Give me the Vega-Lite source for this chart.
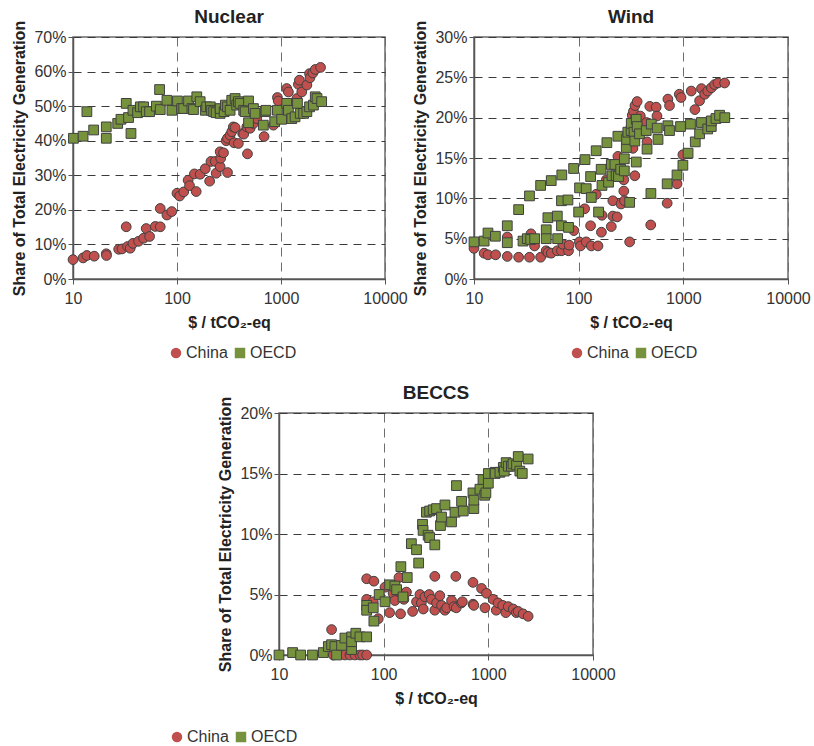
{
  "$schema": "https://vega.github.io/schema/vega-lite/v6.json",
  "background": "white",
  "padding": {"left": 11, "top": 7, "right": 0, "bottom": 0},
  "config": {
    "font": "Liberation Sans",
    "view": {"stroke": "#6b6b6b", "strokeWidth": 1.5},
    "axis": {
      "labelFont": "Liberation Sans", "labelFontSize": 16, "labelColor": "#333333",
      "titleFont": "Liberation Sans", "titleFontSize": 16, "titleFontWeight": "bold", "titleColor": "#222222",
      "domainColor": "#555555", "domainWidth": 1.5, "tickColor": "#555555", "tickSize": 5,
      "gridColor": "#3a3a3a", "gridDash": [8, 6], "gridWidth": 1, "gridOpacity": 1
    },
    "axisX": {"gridColor": "#6e6e6e", "gridDash": [9, 6]},
    "title": {"font": "Liberation Sans", "fontSize": 19, "fontWeight": "bold", "color": "#222222", "frame": "group", "offset": -7},
    "legend": {
      "orient": "none", "direction": "horizontal", "title": null, "legendX": 95, "legendY": 308,
      "labelFont": "Liberation Sans", "labelFontSize": 16, "labelColor": "#333333",
      "symbolSize": 110, "symbolStrokeColor": "#404040", "symbolStrokeWidth": 1, "symbolOpacity": 1,
      "columnPadding": 4, "labelOffset": 2
    }
  },
  "datasets": {
    "nuclear": [
      {"region": "China", "price": 10, "share": 5.6}, {"region": "China", "price": 12.5, "share": 6.1},
      {"region": "China", "price": 13.6, "share": 6.8}, {"region": "China", "price": 16, "share": 6.6},
      {"region": "China", "price": 20.9, "share": 7.3}, {"region": "China", "price": 21, "share": 6.8},
      {"region": "China", "price": 27.5, "share": 8.6}, {"region": "China", "price": 29.6, "share": 8.7},
      {"region": "China", "price": 32.5, "share": 15.1}, {"region": "China", "price": 33.5, "share": 9.4},
      {"region": "China", "price": 35.5, "share": 8.9}, {"region": "China", "price": 37.7, "share": 10.3},
      {"region": "China", "price": 42.7, "share": 10.9}, {"region": "China", "price": 47.7, "share": 11.8},
      {"region": "China", "price": 50.6, "share": 14.6}, {"region": "China", "price": 54.5, "share": 12.3},
      {"region": "China", "price": 61.9, "share": 15.2}, {"region": "China", "price": 69, "share": 15.1},
      {"region": "China", "price": 69, "share": 20.4}, {"region": "China", "price": 80, "share": 18.5},
      {"region": "China", "price": 89, "share": 19.5}, {"region": "China", "price": 100, "share": 24.8},
      {"region": "China", "price": 106, "share": 24}, {"region": "China", "price": 116, "share": 25.2},
      {"region": "China", "price": 128, "share": 28.6}, {"region": "China", "price": 132, "share": 27},
      {"region": "China", "price": 153, "share": 25.3}, {"region": "China", "price": 147, "share": 30.4},
      {"region": "China", "price": 167, "share": 30.3}, {"region": "China", "price": 187, "share": 31.9},
      {"region": "China", "price": 206, "share": 28.3}, {"region": "China", "price": 212, "share": 34},
      {"region": "China", "price": 233, "share": 34}, {"region": "China", "price": 238, "share": 30.6},
      {"region": "China", "price": 260, "share": 32.5}, {"region": "China", "price": 263, "share": 34.9},
      {"region": "China", "price": 306, "share": 30.8}, {"region": "China", "price": 260, "share": 36.8},
      {"region": "China", "price": 280, "share": 36.5}, {"region": "China", "price": 297, "share": 40},
      {"region": "China", "price": 306, "share": 40.7}, {"region": "China", "price": 324, "share": 41.6},
      {"region": "China", "price": 336, "share": 42.6}, {"region": "China", "price": 348, "share": 44},
      {"region": "China", "price": 362, "share": 43.8}, {"region": "China", "price": 354, "share": 39.4},
      {"region": "China", "price": 389, "share": 39.2}, {"region": "China", "price": 428, "share": 42.1},
      {"region": "China", "price": 438, "share": 41.9}, {"region": "China", "price": 469, "share": 44},
      {"region": "China", "price": 476, "share": 36.2}, {"region": "China", "price": 505, "share": 43.6},
      {"region": "China", "price": 543, "share": 45}, {"region": "China", "price": 565, "share": 47.4},
      {"region": "China", "price": 585, "share": 46.4}, {"region": "China", "price": 688, "share": 41.2},
      {"region": "China", "price": 845, "share": 44.5}, {"region": "China", "price": 924, "share": 52.5},
      {"region": "China", "price": 940, "share": 51.5}, {"region": "China", "price": 1135, "share": 55.1},
      {"region": "China", "price": 1178, "share": 54.1}, {"region": "China", "price": 1420, "share": 52.2},
      {"region": "China", "price": 1470, "share": 56.3}, {"region": "China", "price": 1503, "share": 57.5},
      {"region": "China", "price": 1584, "share": 54.1}, {"region": "China", "price": 1773, "share": 56.1},
      {"region": "China", "price": 1881, "share": 59.4}, {"region": "China", "price": 1900, "share": 58.2},
      {"region": "China", "price": 2025, "share": 59.6}, {"region": "China", "price": 2135, "share": 60.6},
      {"region": "China", "price": 2400, "share": 61.2},
      {"region": "OECD", "price": 10.1, "share": 40.7}, {"region": "OECD", "price": 12.5, "share": 41.3},
      {"region": "OECD", "price": 13.6, "share": 48.4}, {"region": "OECD", "price": 15.8, "share": 43.1},
      {"region": "OECD", "price": 20.9, "share": 44}, {"region": "OECD", "price": 20.9, "share": 40.7},
      {"region": "OECD", "price": 26.9, "share": 45}, {"region": "OECD", "price": 28.9, "share": 46.2},
      {"region": "OECD", "price": 32.5, "share": 50.8}, {"region": "OECD", "price": 34.2, "share": 46.7},
      {"region": "OECD", "price": 36.1, "share": 42.1}, {"region": "OECD", "price": 37.7, "share": 48.8},
      {"region": "OECD", "price": 41.8, "share": 48.1}, {"region": "OECD", "price": 44.4, "share": 49.8},
      {"region": "OECD", "price": 47.7, "share": 49.8}, {"region": "OECD", "price": 50.6, "share": 48.4},
      {"region": "OECD", "price": 54.5, "share": 48.4}, {"region": "OECD", "price": 63.3, "share": 50},
      {"region": "OECD", "price": 68, "share": 54.8}, {"region": "OECD", "price": 69, "share": 49},
      {"region": "OECD", "price": 80, "share": 51.7}, {"region": "OECD", "price": 89.3, "share": 48.8},
      {"region": "OECD", "price": 101, "share": 51.5}, {"region": "OECD", "price": 111, "share": 49.3},
      {"region": "OECD", "price": 116, "share": 49.3}, {"region": "OECD", "price": 129, "share": 51.5},
      {"region": "OECD", "price": 139, "share": 49.3}, {"region": "OECD", "price": 144, "share": 49},
      {"region": "OECD", "price": 155, "share": 52.7}, {"region": "OECD", "price": 167, "share": 51.3},
      {"region": "OECD", "price": 187, "share": 48.8}, {"region": "OECD", "price": 193, "share": 49.8},
      {"region": "OECD", "price": 209, "share": 49.8}, {"region": "OECD", "price": 215, "share": 48.8},
      {"region": "OECD", "price": 225, "share": 48.4}, {"region": "OECD", "price": 238, "share": 48.1},
      {"region": "OECD", "price": 260, "share": 47.9}, {"region": "OECD", "price": 260, "share": 49.3},
      {"region": "OECD", "price": 284, "share": 48.4}, {"region": "OECD", "price": 292, "share": 50.3},
      {"region": "OECD", "price": 306, "share": 49.8}, {"region": "OECD", "price": 324, "share": 48.8},
      {"region": "OECD", "price": 336, "share": 51.7}, {"region": "OECD", "price": 362, "share": 52.2},
      {"region": "OECD", "price": 375, "share": 50.3}, {"region": "OECD", "price": 389, "share": 51.3},
      {"region": "OECD", "price": 404, "share": 50.8}, {"region": "OECD", "price": 438, "share": 48.8},
      {"region": "OECD", "price": 452, "share": 48.4}, {"region": "OECD", "price": 487, "share": 51.5},
      {"region": "OECD", "price": 487, "share": 45.2}, {"region": "OECD", "price": 543, "share": 49.3},
      {"region": "OECD", "price": 564, "share": 47.9}, {"region": "OECD", "price": 676, "share": 44.5},
      {"region": "OECD", "price": 703, "share": 48.4}, {"region": "OECD", "price": 717, "share": 48.8},
      {"region": "OECD", "price": 870, "share": 45.5}, {"region": "OECD", "price": 924, "share": 48.8},
      {"region": "OECD", "price": 1015, "share": 46.2}, {"region": "OECD", "price": 1135, "share": 50.8},
      {"region": "OECD", "price": 1178, "share": 48.8}, {"region": "OECD", "price": 1270, "share": 46.4},
      {"region": "OECD", "price": 1365, "share": 46.9}, {"region": "OECD", "price": 1440, "share": 50.8},
      {"region": "OECD", "price": 1530, "share": 47.9}, {"region": "OECD", "price": 1650, "share": 47.9},
      {"region": "OECD", "price": 1773, "share": 48.4}, {"region": "OECD", "price": 1881, "share": 49.8},
      {"region": "OECD", "price": 2050, "share": 50.3}, {"region": "OECD", "price": 2135, "share": 52.7},
      {"region": "OECD", "price": 2220, "share": 52.2}, {"region": "OECD", "price": 2460, "share": 51.3}
    ],
    "wind": [
      {"region": "China", "price": 10, "share": 3.8}, {"region": "China", "price": 12.5, "share": 3.2},
      {"region": "China", "price": 13.6, "share": 3}, {"region": "China", "price": 16.1, "share": 3},
      {"region": "China", "price": 20.8, "share": 2.8}, {"region": "China", "price": 20.8, "share": 5.2},
      {"region": "China", "price": 26.7, "share": 2.7}, {"region": "China", "price": 33.9, "share": 2.7},
      {"region": "China", "price": 35, "share": 5.6}, {"region": "China", "price": 37.9, "share": 4.1},
      {"region": "China", "price": 43.3, "share": 2.7}, {"region": "China", "price": 48.9, "share": 3.5},
      {"region": "China", "price": 50.8, "share": 3.3}, {"region": "China", "price": 54.7, "share": 3.2},
      {"region": "China", "price": 62.5, "share": 3.5}, {"region": "China", "price": 68.5, "share": 3.5},
      {"region": "China", "price": 70.6, "share": 4.3}, {"region": "China", "price": 80, "share": 3.5},
      {"region": "China", "price": 81, "share": 4.2}, {"region": "China", "price": 90, "share": 6},
      {"region": "China", "price": 101.6, "share": 4.6}, {"region": "China", "price": 104, "share": 4.1},
      {"region": "China", "price": 114, "share": 8.7}, {"region": "China", "price": 118, "share": 4.6},
      {"region": "China", "price": 130, "share": 6.6}, {"region": "China", "price": 132, "share": 4.1},
      {"region": "China", "price": 147, "share": 10.5}, {"region": "China", "price": 153, "share": 4.1},
      {"region": "China", "price": 165, "share": 5.8}, {"region": "China", "price": 167, "share": 7.9},
      {"region": "China", "price": 184, "share": 12.3}, {"region": "China", "price": 205, "share": 6.5},
      {"region": "China", "price": 212, "share": 9.7}, {"region": "China", "price": 212, "share": 7.8},
      {"region": "China", "price": 233, "share": 7.7}, {"region": "China", "price": 237, "share": 15.2},
      {"region": "China", "price": 254, "share": 9.3}, {"region": "China", "price": 270, "share": 10.9},
      {"region": "China", "price": 274, "share": 9.7}, {"region": "China", "price": 270, "share": 12.3},
      {"region": "China", "price": 307, "share": 4.6}, {"region": "China", "price": 330, "share": 16.2},
      {"region": "China", "price": 340, "share": 17.4}, {"region": "China", "price": 340, "share": 19},
      {"region": "China", "price": 344, "share": 12.8}, {"region": "China", "price": 325, "share": 20.3},
      {"region": "China", "price": 334, "share": 20.8}, {"region": "China", "price": 345, "share": 21.5},
      {"region": "China", "price": 362, "share": 22}, {"region": "China", "price": 345, "share": 19.8},
      {"region": "China", "price": 388, "share": 20.2}, {"region": "China", "price": 444, "share": 19.4},
      {"region": "China", "price": 450, "share": 17}, {"region": "China", "price": 478, "share": 21.4},
      {"region": "China", "price": 488, "share": 6.7}, {"region": "China", "price": 550, "share": 21.3},
      {"region": "China", "price": 560, "share": 20.2}, {"region": "China", "price": 701, "share": 9.4},
      {"region": "China", "price": 712, "share": 22.3}, {"region": "China", "price": 738, "share": 21.5},
      {"region": "China", "price": 870, "share": 11.8}, {"region": "China", "price": 915, "share": 22.9},
      {"region": "China", "price": 950, "share": 22.5}, {"region": "China", "price": 990, "share": 15.4},
      {"region": "China", "price": 1190, "share": 23.3}, {"region": "China", "price": 1290, "share": 21},
      {"region": "China", "price": 1430, "share": 22.1}, {"region": "China", "price": 1490, "share": 23.6},
      {"region": "China", "price": 1600, "share": 22.9}, {"region": "China", "price": 1710, "share": 23.3},
      {"region": "China", "price": 1850, "share": 23.7}, {"region": "China", "price": 1990, "share": 24.1},
      {"region": "China", "price": 2140, "share": 24.3}, {"region": "China", "price": 2480, "share": 24.3},
      {"region": "OECD", "price": 10, "share": 4.6}, {"region": "OECD", "price": 12.5, "share": 4.7},
      {"region": "OECD", "price": 13.6, "share": 5.7}, {"region": "OECD", "price": 16, "share": 5.3},
      {"region": "OECD", "price": 20.8, "share": 6.6}, {"region": "OECD", "price": 20.8, "share": 4.5},
      {"region": "OECD", "price": 26.7, "share": 8.6}, {"region": "OECD", "price": 29.4, "share": 4.7},
      {"region": "OECD", "price": 32.3, "share": 5}, {"region": "OECD", "price": 33.9, "share": 10.3},
      {"region": "OECD", "price": 34.8, "share": 4.9}, {"region": "OECD", "price": 38, "share": 5},
      {"region": "OECD", "price": 43.3, "share": 11.6}, {"region": "OECD", "price": 49, "share": 6.1},
      {"region": "OECD", "price": 49, "share": 5}, {"region": "OECD", "price": 50.8, "share": 7.6},
      {"region": "OECD", "price": 54.7, "share": 12.2}, {"region": "OECD", "price": 62.5, "share": 7.8},
      {"region": "OECD", "price": 63, "share": 5}, {"region": "OECD", "price": 68.5, "share": 6.6},
      {"region": "OECD", "price": 68.5, "share": 9.7}, {"region": "OECD", "price": 69, "share": 12.9},
      {"region": "OECD", "price": 79, "share": 9.8}, {"region": "OECD", "price": 80, "share": 6.4},
      {"region": "OECD", "price": 89.5, "share": 13.7}, {"region": "OECD", "price": 100, "share": 8.3},
      {"region": "OECD", "price": 102, "share": 11.3}, {"region": "OECD", "price": 115, "share": 14.8},
      {"region": "OECD", "price": 118, "share": 11.2}, {"region": "OECD", "price": 130, "share": 12.7},
      {"region": "OECD", "price": 132, "share": 10.1}, {"region": "OECD", "price": 147, "share": 15.9},
      {"region": "OECD", "price": 155, "share": 8.3}, {"region": "OECD", "price": 164, "share": 13.6},
      {"region": "OECD", "price": 167, "share": 11.6}, {"region": "OECD", "price": 186, "share": 16.9},
      {"region": "OECD", "price": 193, "share": 12}, {"region": "OECD", "price": 205, "share": 14.2},
      {"region": "OECD", "price": 208, "share": 12.8}, {"region": "OECD", "price": 222, "share": 14.2},
      {"region": "OECD", "price": 228, "share": 12.8}, {"region": "OECD", "price": 237, "share": 17.7},
      {"region": "OECD", "price": 240, "share": 12.7}, {"region": "OECD", "price": 252, "share": 13.6},
      {"region": "OECD", "price": 273, "share": 13.4}, {"region": "OECD", "price": 273, "share": 14.9},
      {"region": "OECD", "price": 285, "share": 16.3}, {"region": "OECD", "price": 287, "share": 17.3},
      {"region": "OECD", "price": 295, "share": 18.2}, {"region": "OECD", "price": 307, "share": 9.5},
      {"region": "OECD", "price": 317, "share": 18.4}, {"region": "OECD", "price": 318, "share": 19.3},
      {"region": "OECD", "price": 338, "share": 18.2}, {"region": "OECD", "price": 344, "share": 17.1},
      {"region": "OECD", "price": 355, "share": 19.8}, {"region": "OECD", "price": 355, "share": 14.5},
      {"region": "OECD", "price": 362, "share": 18.9}, {"region": "OECD", "price": 381, "share": 18},
      {"region": "OECD", "price": 442, "share": 18.4}, {"region": "OECD", "price": 450, "share": 16.1},
      {"region": "OECD", "price": 490, "share": 10.6}, {"region": "OECD", "price": 494, "share": 19.2},
      {"region": "OECD", "price": 563, "share": 18.7}, {"region": "OECD", "price": 573, "share": 17.3},
      {"region": "OECD", "price": 701, "share": 11.8}, {"region": "OECD", "price": 712, "share": 19},
      {"region": "OECD", "price": 738, "share": 18.4}, {"region": "OECD", "price": 870, "share": 12.9},
      {"region": "OECD", "price": 940, "share": 18.9}, {"region": "OECD", "price": 990, "share": 14.1},
      {"region": "OECD", "price": 1110, "share": 15.6}, {"region": "OECD", "price": 1170, "share": 19.2},
      {"region": "OECD", "price": 1300, "share": 17}, {"region": "OECD", "price": 1430, "share": 18},
      {"region": "OECD", "price": 1490, "share": 19.4}, {"region": "OECD", "price": 1710, "share": 18.6},
      {"region": "OECD", "price": 1850, "share": 18.9}, {"region": "OECD", "price": 1850, "share": 19.6},
      {"region": "OECD", "price": 2050, "share": 19.9}, {"region": "OECD", "price": 2220, "share": 20.3},
      {"region": "OECD", "price": 2490, "share": 20}
    ],
    "beccs": [
      {"region": "China", "price": 31.8, "share": 2.1}, {"region": "China", "price": 33, "share": 0},
      {"region": "China", "price": 42.6, "share": 0}, {"region": "China", "price": 47.6, "share": 0},
      {"region": "China", "price": 53.2, "share": 0}, {"region": "China", "price": 59.4, "share": 0},
      {"region": "China", "price": 63, "share": 0}, {"region": "China", "price": 68.8, "share": 0},
      {"region": "China", "price": 68.8, "share": 6.3}, {"region": "China", "price": 80.6, "share": 6.1},
      {"region": "China", "price": 68.8, "share": 4.6}, {"region": "China", "price": 79.5, "share": 4.4},
      {"region": "China", "price": 88.8, "share": 3}, {"region": "China", "price": 103, "share": 5.6},
      {"region": "China", "price": 114, "share": 3.5}, {"region": "China", "price": 123, "share": 5.1},
      {"region": "China", "price": 128, "share": 4.5}, {"region": "China", "price": 140, "share": 6.4},
      {"region": "China", "price": 145, "share": 3.4}, {"region": "China", "price": 156, "share": 4.6},
      {"region": "China", "price": 160, "share": 5.1}, {"region": "China", "price": 165, "share": 5.2},
      {"region": "China", "price": 189, "share": 3.6}, {"region": "China", "price": 206, "share": 4.4},
      {"region": "China", "price": 222, "share": 5}, {"region": "China", "price": 229, "share": 4.3},
      {"region": "China", "price": 239, "share": 3.8}, {"region": "China", "price": 248, "share": 4.8},
      {"region": "China", "price": 272, "share": 5}, {"region": "China", "price": 286, "share": 4.6},
      {"region": "China", "price": 308, "share": 6.5}, {"region": "China", "price": 308, "share": 3.7},
      {"region": "China", "price": 320, "share": 4.3}, {"region": "China", "price": 344, "share": 4.9},
      {"region": "China", "price": 357, "share": 4.1}, {"region": "China", "price": 385, "share": 3.7},
      {"region": "China", "price": 400, "share": 3.9}, {"region": "China", "price": 445, "share": 4.5},
      {"region": "China", "price": 470, "share": 4}, {"region": "China", "price": 489, "share": 6.5},
      {"region": "China", "price": 494, "share": 3.9}, {"region": "China", "price": 553, "share": 4.3},
      {"region": "China", "price": 565, "share": 4.4}, {"region": "China", "price": 713, "share": 6},
      {"region": "China", "price": 714, "share": 4.2}, {"region": "China", "price": 727, "share": 4.1},
      {"region": "China", "price": 861, "share": 5.5}, {"region": "China", "price": 928, "share": 3.9},
      {"region": "China", "price": 961, "share": 5.1}, {"region": "China", "price": 1112, "share": 4.6},
      {"region": "China", "price": 1190, "share": 3.7}, {"region": "China", "price": 1240, "share": 4.3},
      {"region": "China", "price": 1370, "share": 4.1}, {"region": "China", "price": 1470, "share": 3.5},
      {"region": "China", "price": 1550, "share": 4}, {"region": "China", "price": 1730, "share": 3.8},
      {"region": "China", "price": 1850, "share": 3.5}, {"region": "China", "price": 1930, "share": 3.6},
      {"region": "China", "price": 2150, "share": 3.4}, {"region": "China", "price": 2400, "share": 3.2},
      {"region": "OECD", "price": 10, "share": 0}, {"region": "OECD", "price": 13.5, "share": 0.2},
      {"region": "OECD", "price": 16.1, "share": 0}, {"region": "OECD", "price": 20.9, "share": 0},
      {"region": "OECD", "price": 26.5, "share": 0.2}, {"region": "OECD", "price": 29.6, "share": 0.7},
      {"region": "OECD", "price": 31.8, "share": 0.85}, {"region": "OECD", "price": 34.2, "share": 0.7},
      {"region": "OECD", "price": 35.5, "share": 0}, {"region": "OECD", "price": 39.6, "share": 0.8},
      {"region": "OECD", "price": 42.6, "share": 1.4}, {"region": "OECD", "price": 49.4, "share": 1.5},
      {"region": "OECD", "price": 49.4, "share": 0.45}, {"region": "OECD", "price": 49.4, "share": 1.1},
      {"region": "OECD", "price": 54.2, "share": 1.8}, {"region": "OECD", "price": 59.3, "share": 1.5},
      {"region": "OECD", "price": 68.8, "share": 1.5}, {"region": "OECD", "price": 68.8, "share": 4.1},
      {"region": "OECD", "price": 68.8, "share": 3.7}, {"region": "OECD", "price": 79.5, "share": 3.9},
      {"region": "OECD", "price": 80.6, "share": 2.8}, {"region": "OECD", "price": 90.6, "share": 5},
      {"region": "OECD", "price": 103, "share": 4.4}, {"region": "OECD", "price": 114, "share": 5.8},
      {"region": "OECD", "price": 128, "share": 5.7}, {"region": "OECD", "price": 133, "share": 5.4},
      {"region": "OECD", "price": 146, "share": 7.3}, {"region": "OECD", "price": 153, "share": 4.8},
      {"region": "OECD", "price": 168, "share": 6.4}, {"region": "OECD", "price": 184, "share": 9.2},
      {"region": "OECD", "price": 206, "share": 8.7}, {"region": "OECD", "price": 216, "share": 7.6},
      {"region": "OECD", "price": 235, "share": 10.8}, {"region": "OECD", "price": 238, "share": 10.3},
      {"region": "OECD", "price": 256, "share": 11.8}, {"region": "OECD", "price": 266, "share": 9.9},
      {"region": "OECD", "price": 275, "share": 11.9}, {"region": "OECD", "price": 275, "share": 9.7},
      {"region": "OECD", "price": 297, "share": 12}, {"region": "OECD", "price": 308, "share": 9.1},
      {"region": "OECD", "price": 320, "share": 12.1}, {"region": "OECD", "price": 349, "share": 10.7},
      {"region": "OECD", "price": 357, "share": 11.4}, {"region": "OECD", "price": 385, "share": 12.4},
      {"region": "OECD", "price": 445, "share": 11}, {"region": "OECD", "price": 480, "share": 11.8},
      {"region": "OECD", "price": 496, "share": 14}, {"region": "OECD", "price": 555, "share": 12.7},
      {"region": "OECD", "price": 576, "share": 11.9}, {"region": "OECD", "price": 713, "share": 13.4},
      {"region": "OECD", "price": 727, "share": 12.1}, {"region": "OECD", "price": 727, "share": 12.8},
      {"region": "OECD", "price": 831, "share": 13.7}, {"region": "OECD", "price": 889, "share": 14.5},
      {"region": "OECD", "price": 923, "share": 13.2}, {"region": "OECD", "price": 948, "share": 13.4},
      {"region": "OECD", "price": 1000, "share": 14.2}, {"region": "OECD", "price": 1000, "share": 15},
      {"region": "OECD", "price": 1158, "share": 15.1}, {"region": "OECD", "price": 1160, "share": 15},
      {"region": "OECD", "price": 1290, "share": 15.1}, {"region": "OECD", "price": 1390, "share": 15.5},
      {"region": "OECD", "price": 1420, "share": 15.2}, {"region": "OECD", "price": 1480, "share": 15.9},
      {"region": "OECD", "price": 1550, "share": 15.6}, {"region": "OECD", "price": 1660, "share": 15.6},
      {"region": "OECD", "price": 1720, "share": 15.8}, {"region": "OECD", "price": 1860, "share": 15.7},
      {"region": "OECD", "price": 1930, "share": 16.4}, {"region": "OECD", "price": 2000, "share": 15.2},
      {"region": "OECD", "price": 2110, "share": 15}, {"region": "OECD", "price": 2400, "share": 16.2}
    ]
  },
  "vconcat": [
    {
      "hconcat": [
        {
          "title": "Nuclear",
          "width": 312, "height": 242,
          "data": {"name": "nuclear"},
          "mark": {"type": "point", "filled": true, "opacity": 1, "stroke": "#404040", "strokeWidth": 1, "size": 95},
          "encoding": {
            "x": {"field": "price", "type": "quantitative", "title": "$ / tCO₂-eq",
                  "scale": {"type": "log", "domain": [10, 10000]},
                  "axis": {"values": [10, 100, 1000, 10000], "format": "d", "labelFlush": false, "labelPadding": 6, "titlePadding": 8}},
            "y": {"field": "share", "type": "quantitative", "title": "Share of Total Electricity Generation",
                  "scale": {"domain": [0, 70]},
                  "axis": {"values": [0, 10, 20, 30, 40, 50, 60, 70], "labelExpr": "datum.value + '%'", "titlePadding": 6}},
            "color": {"field": "region", "type": "nominal", "scale": {"domain": ["China", "OECD"], "range": ["#C0504D", "#76923C"]}},
            "shape": {"field": "region", "type": "nominal", "scale": {"domain": ["China", "OECD"], "range": ["circle", "square"]}}
          }
        },
        {
          "title": "Wind",
          "width": 314, "height": 242,
          "data": {"name": "wind"},
          "mark": {"type": "point", "filled": true, "opacity": 1, "stroke": "#404040", "strokeWidth": 1, "size": 95},
          "encoding": {
            "x": {"field": "price", "type": "quantitative", "title": "$ / tCO₂-eq",
                  "scale": {"type": "log", "domain": [10, 10000]},
                  "axis": {"values": [10, 100, 1000, 10000], "format": "d", "labelFlush": false, "labelPadding": 6, "titlePadding": 8}},
            "y": {"field": "share", "type": "quantitative", "title": "Share of Total Electricity Generation",
                  "scale": {"domain": [0, 30]},
                  "axis": {"values": [0, 5, 10, 15, 20, 25, 30], "labelExpr": "datum.value + '%'", "titlePadding": 6}},
            "color": {"field": "region", "type": "nominal", "scale": {"domain": ["China", "OECD"], "range": ["#C0504D", "#76923C"]}},
            "shape": {"field": "region", "type": "nominal", "scale": {"domain": ["China", "OECD"], "range": ["circle", "square"]}}
          }
        }
      ],
      "spacing": 4,
      "resolve": {"legend": {"color": "independent", "shape": "independent"}}
    },
    {
      "hconcat": [
        {
          "width": 138, "height": 10,
          "view": {"stroke": null},
          "data": {"values": []},
          "mark": {"type": "point", "opacity": 0}
        },
        {
          "title": "BECCS",
          "width": 314, "height": 242,
          "data": {"name": "beccs"},
          "mark": {"type": "point", "filled": true, "opacity": 1, "stroke": "#404040", "strokeWidth": 1, "size": 95},
          "encoding": {
            "x": {"field": "price", "type": "quantitative", "title": "$ / tCO₂-eq",
                  "scale": {"type": "log", "domain": [10, 10000]},
                  "axis": {"values": [10, 100, 1000, 10000], "format": "d", "labelFlush": false, "labelPadding": 6, "titlePadding": 8}},
            "y": {"field": "share", "type": "quantitative", "title": "Share of Total Electricity Generation",
                  "scale": {"domain": [0, 20]},
                  "axis": {"values": [0, 5, 10, 15, 20], "labelExpr": "datum.value + '%'", "titlePadding": 6}},
            "color": {"field": "region", "type": "nominal", "scale": {"domain": ["China", "OECD"], "range": ["#C0504D", "#76923C"]},
                      "legend": {"legendX": 96, "legendY": 316}},
            "shape": {"field": "region", "type": "nominal", "scale": {"domain": ["China", "OECD"], "range": ["circle", "square"]}}
          }
        }
      ],
      "spacing": 6
    }
  ],
  "spacing": 21,
  "resolve": {"legend": {"color": "independent", "shape": "independent"}}
}
